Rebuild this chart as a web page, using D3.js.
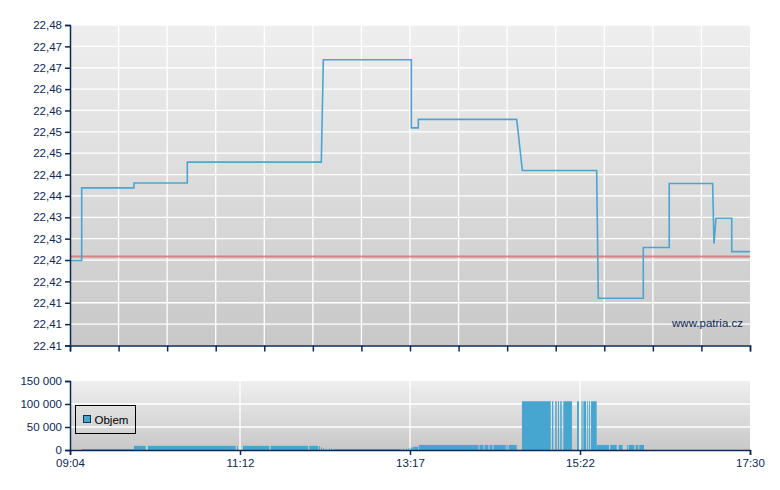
<!DOCTYPE html>
<html><head><meta charset="utf-8">
<script src="https://cdn.jsdelivr.net/npm/d3@7"></script>
<style>
html,body{margin:0;padding:0;background:#fff;}
svg{display:block;font-family:"Liberation Sans",Arial,sans-serif;}
</style></head>
<body><svg id="c" width="780" height="490"></svg>
<script>
// ---- data (minutes after 09:04) ----
const priceTimes = [0, 8.7, 8.7, 47.6, 47.6, 87.3, 87.3, 187.0, 188.5, 254.0, 254.0, 259.2, 259.2, 332.4, 336.6, 391.9, 393.1, 426.6, 426.6, 445.9, 445.9, 478.2, 479.2, 480.7, 492.4, 492.4, 506];
const priceValues = [22.4241, 22.4241, 22.4404, 22.4404, 22.4415, 22.4415, 22.4462, 22.4462, 22.4692, 22.4692, 22.4539, 22.4539, 22.4558, 22.4558, 22.4443, 22.4443, 22.4156, 22.4156, 22.4270, 22.4270, 22.4414, 22.4414, 22.4279, 22.4336, 22.4336, 22.4261, 22.4261];
const referencePrice = 22.425;

const volStart = [8.9, 47.6, 58.0, 124.3, 128.7, 149.3, 178.1, 185.3, 186.8, 188.3, 190.5, 192.7, 194.2, 195.9, 247.8, 250.0, 251.9, 253.5, 255.2,
  259.5, 304.7, 308.4, 312.2, 315.1, 324.8, 326.4,
  336.3, 358.7, 361.1, 363.1, 364.8, 367.1, 377.3, 380.6, 382.0, 384.9, 386.2, 387.7,
  391.9, 402.0, 408.3, 414.5, 415.7, 420.9, 423.6];
const volEnd = [47.3, 56.3, 123.3, 125.0, 148.3, 177.3, 184.8, 186.0, 187.5, 189.0, 191.2, 193.5, 195.0, 246.3, 248.5, 250.8, 252.6, 254.9, 259.0,
  304.0, 307.7, 311.4, 314.4, 324.2, 325.6, 332.4,
  357.7, 359.6, 362.2, 363.9, 365.9, 373.5, 378.7, 381.4, 384.0, 385.5, 386.9, 391.9,
  401.1, 406.8, 411.2, 415.0, 419.9, 422.9, 427.1];
const volValue = [2000, 9000, 9000, 9000, 9000, 9000, 9000, 8000, 6000, 4000, 3000, 3000, 3000, 2000, 3000, 3000, 4000, 5000, 7000,
  11000, 11000, 11000, 11000, 11000, 11000, 11000,
  106000, 106000, 106000, 106000, 106000, 106000, 106000, 106000, 106000, 106000, 106000, 106000,
  11000, 11000, 11000, 11000, 11000, 11000, 11000];

const priceTickLabels = ["22.41","22,41","22,41","22,42","22,42","22,43","22,43","22,44","22,44","22,45","22,45","22,46","22,46","22,47","22,47","22,48"];
const volTickValues = [0, 50000, 100000, 150000];
const volTickLabels = ["0","50 000","100 000","150 000"];
const timeTickLabels = ["09:04","11:12","13:17","15:22","17:30"];
const legendLabel = "Objem";
const watermark = "www.patria.cz";

// ---- layout ----
const svg = d3.select("#c");
const L = 70, R = 750, T1 = 25, B1 = 345.5, T2 = 381, B2 = 450;
const navy = "#0c2858", blue = "#47a6d0";
const span = 506, yMin = 22.405, yMax = 22.477;

const x = d3.scaleLinear().domain([0, span]).range([L, R]);
const y = d3.scaleLinear().domain([yMin, yMax]).range([B1, T1]);
const yv = d3.scaleLinear().domain([0, 150000]).range([B2, T2]);

const defs = svg.append("defs");
const g = defs.append("linearGradient").attr("id","bg").attr("x1",0).attr("y1",0).attr("x2",0).attr("y2",1);
g.append("stop").attr("offset","0%").attr("stop-color","#efefef");
g.append("stop").attr("offset","100%").attr("stop-color","#c8c8c8");

// ---- main chart ----
svg.append("rect").attr("x",L).attr("y",T1).attr("width",R-L).attr("height",B1-T1).attr("fill","url(#bg)");
const yTicks = d3.range(priceTickLabels.length).map(i => yMin + i*(yMax-yMin)/(priceTickLabels.length-1));
const xTicks = d3.range(15).map(i => i*span/14);

svg.append("g").selectAll("line").data(yTicks.slice(1)).join("line")
  .attr("x1",L).attr("x2",R).attr("y1",d=>y(d)).attr("y2",d=>y(d))
  .attr("stroke","#fff").attr("stroke-width",1.3);
svg.append("g").selectAll("line").data(xTicks.slice(1,-1)).join("line")
  .attr("x1",d=>x(d)).attr("x2",d=>x(d)).attr("y1",T1).attr("y2",B1)
  .attr("stroke","#fff").attr("stroke-width",1.3);

// reference line
svg.append("line").attr("x1",L).attr("x2",R).attr("y1",y(referencePrice)).attr("y2",y(referencePrice))
  .attr("stroke","#dc7474").attr("stroke-width",2).attr("opacity",0.85);

// price line
const pts = priceTimes.map((t,i)=>[t, priceValues[i]]);
svg.append("path").datum(pts)
  .attr("d", d3.line().x(d=>x(d[0])).y(d=>y(d[1])))
  .attr("fill","none").attr("stroke","#4da5cf").attr("stroke-width",1.6);

svg.append("text").attr("x",743).attr("y",327).attr("text-anchor","end")
  .attr("font-size",11.5).attr("fill",navy).text(watermark);

// axes main
const ax1 = svg.append("g").attr("transform",`translate(${L},0)`)
  .call(d3.axisLeft(y).tickValues(yTicks).tickSize(5).tickPadding(3).tickFormat((d,i)=>priceTickLabels[i]));
const bx1 = svg.append("g").attr("transform",`translate(0,${B1})`)
  .call(d3.axisBottom(x).tickValues(xTicks).tickSize(6).tickFormat(""));

// ---- volume chart ----
svg.append("rect").attr("x",L).attr("y",T2).attr("width",R-L).attr("height",B2-T2).attr("fill","url(#bg)");
svg.append("g").selectAll("line").data(volTickValues.slice(1,-1)).join("line")
  .attr("x1",L).attr("x2",R).attr("y1",d=>yv(d)).attr("y2",d=>yv(d))
  .attr("stroke","#fff").attr("stroke-width",1.3);
const volTimeTicks = d3.range(5).map(i => i*span/4);
svg.append("g").selectAll("line").data(volTimeTicks.slice(1,-1)).join("line")
  .attr("x1",d=>x(d)).attr("x2",d=>x(d)).attr("y1",T2).attr("y2",B2)
  .attr("stroke","#fff").attr("stroke-width",1.3);

svg.append("g").selectAll("rect").data(volValue.map((v,i)=>({s:volStart[i], e:volEnd[i], v})))
  .join("rect")
  .attr("x",d=>x(d.s)).attr("width",d=>Math.max(0.8, x(d.e)-x(d.s)))
  .attr("y",d=>yv(d.v)).attr("height",d=>B2-yv(d.v))
  .attr("fill",blue);

const ax2 = svg.append("g").attr("transform",`translate(${L},0)`)
  .call(d3.axisLeft(yv).tickValues(volTickValues).tickSize(5).tickPadding(3).tickFormat((d,i)=>volTickLabels[i]));
const bx2 = svg.append("g").attr("transform",`translate(0,${B2})`)
  .call(d3.axisBottom(x).tickValues(volTimeTicks).tickSize(5).tickPadding(4).tickFormat((d,i)=>timeTickLabels[i]));

[ax1,bx1,ax2,bx2].forEach(a=>{
  a.select(".domain").attr("stroke",navy).attr("stroke-width",1.5);
  a.selectAll(".tick line").attr("stroke",navy).attr("stroke-width",1.5);
  a.selectAll(".tick text").attr("fill",navy).attr("font-size",11.5).attr("font-family","'Liberation Sans',Arial,sans-serif");
});

// legend
const lg = svg.append("g");
lg.append("rect").attr("x",75.5).attr("y",405.5).attr("width",60).attr("height",28)
  .attr("fill","none").attr("stroke","#000").attr("stroke-width",1);
lg.append("rect").attr("x",83.5).attr("y",415.5).attr("width",7).attr("height",7)
  .attr("fill",blue).attr("stroke","#1a3050").attr("stroke-width",1);
lg.append("text").attr("x",94.5).attr("y",423.5).attr("font-size",11.5).attr("fill","#000").text(legendLabel);
</script></body></html>
